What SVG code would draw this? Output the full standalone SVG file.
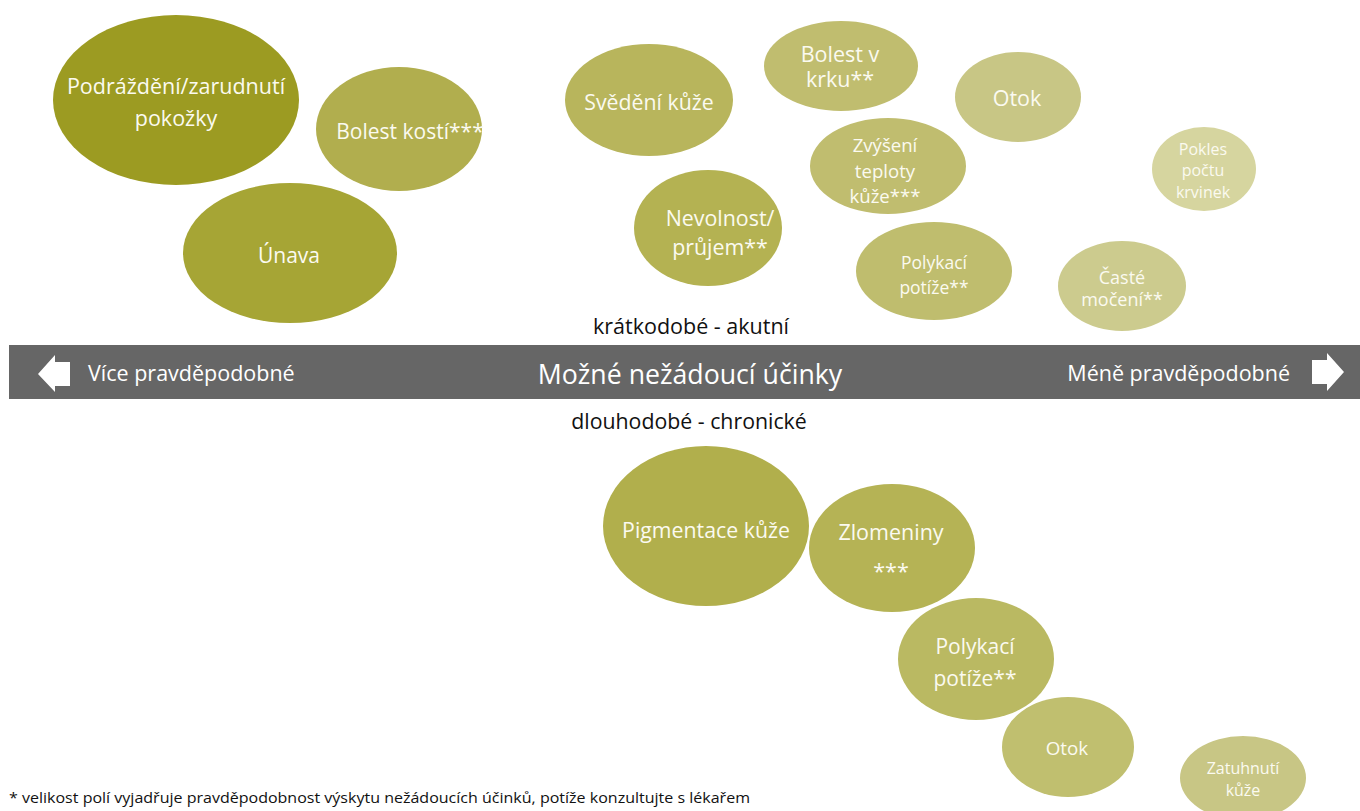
<svg xmlns="http://www.w3.org/2000/svg" width="1360" height="811" viewBox="0 0 1360 811">
<style>
text{font-family:"Open Sans","Noto Sans","Liberation Sans",sans-serif}
.n{fill:#fbfaf0;text-anchor:middle;dominant-baseline:central}
.d{fill:#111;text-anchor:middle}
.w{fill:#fff;dominant-baseline:central}
</style>
<rect width="1360" height="811" fill="#fff"/>
<g id="banner">
<rect x="9" y="345" width="1351" height="54" fill="#666"/>
<polygon points="38,374 55,355 55,362 70,362 70,386 55,386 55,392" fill="#fff"/>
<polygon points="1344,372 1327,353 1327,360 1312,360 1312,384 1327,384 1327,391" fill="#fff"/>
<text class="w" x="88" y="372" font-size="21.5">Více pravděpodobné</text>
<text class="w" x="1290" y="372" text-anchor="end" font-size="21.5">Méně pravděpodobné</text>
<text class="w" x="690" y="373" text-anchor="middle" font-size="26.7">Možné nežádoucí účinky</text>
</g>
<text class="d" x="691" y="334" font-size="21.5">krátkodobé - akutní</text>
<text class="d" x="689" y="429" font-size="21.3">dlouhodobé - chronické</text>
<g id="n1"><ellipse cx="176" cy="100" rx="123" ry="85" fill="#9c9b22"/><text class="n" x="176" y="85" font-size="21.5">Podráždění/zarudnutí</text><text class="n" x="176" y="117" font-size="21.5">pokožky</text></g>
<g id="n2"><ellipse cx="399" cy="129" rx="83" ry="62" fill="#b1ae4e"/><text class="n" x="410" y="131" font-size="21">Bolest kostí***</text></g>
<g id="n3"><ellipse cx="290" cy="253" rx="107" ry="70" fill="#a6a535"/><text class="n" x="289" y="255" font-size="21">Únava</text></g>
<g id="n4"><ellipse cx="649" cy="100" rx="84" ry="56" fill="#b8b55c"/><text class="n" x="649" y="101" font-size="21.3">Svědění kůže</text></g>
<g id="n5"><ellipse cx="841" cy="66" rx="77" ry="45" fill="#c0bd6f"/><text class="n" x="840" y="53" font-size="21.5">Bolest v</text><text class="n" x="840" y="78" font-size="21.5">krku**</text></g>
<g id="n6"><ellipse cx="1018" cy="97" rx="63" ry="45" fill="#c8c685"/><text class="n" x="1017" y="97" font-size="21.5">Otok</text></g>
<g id="n7"><ellipse cx="888" cy="166" rx="78" ry="48" fill="#c0bd6f"/><text class="n" x="885" y="144" font-size="18.6">Zvýšení</text><text class="n" x="885" y="170" font-size="18.6">teploty</text><text class="n" x="885" y="195" font-size="18.6">kůže***</text></g>
<g id="n8"><ellipse cx="708" cy="228" rx="74" ry="58" fill="#b4b252"/><text class="n" x="720" y="217" font-size="21.4">Nevolnost/</text><text class="n" x="720" y="246" font-size="21.4">průjem**</text></g>
<g id="n9"><ellipse cx="934" cy="271" rx="78" ry="49" fill="#bfbd6e"/><text class="n" x="934" y="262" font-size="17.5">Polykací</text><text class="n" x="934" y="287" font-size="17.5">potíže**</text></g>
<g id="n10"><ellipse cx="1204" cy="169" rx="52" ry="42" fill="#d6d59f"/><text class="n" x="1203" y="149" font-size="16">Pokles</text><text class="n" x="1203" y="170" font-size="16">počtu</text><text class="n" x="1203" y="192" font-size="16">krvinek</text></g>
<g id="n11"><ellipse cx="1122" cy="286" rx="64" ry="45" fill="#cccb8e"/><text class="n" x="1122" y="277" font-size="18">Časté</text><text class="n" x="1122" y="299" font-size="18">močení**</text></g>
<g id="n12"><ellipse cx="706" cy="526" rx="103" ry="80" fill="#b1af4c"/><text class="n" x="706" y="529" font-size="21.3">Pigmentace kůže</text></g>
<g id="n13"><ellipse cx="892" cy="548" rx="83" ry="64" fill="#b5b355"/><text class="n" x="891" y="531" font-size="21.5">Zlomeniny</text><text class="n" x="891" y="570" font-size="21.5">***</text></g>
<g id="n14"><ellipse cx="976" cy="659" rx="78" ry="61" fill="#bab962"/><text class="n" x="975" y="646" font-size="21">Polykací</text><text class="n" x="975" y="678" font-size="21">potíže**</text></g>
<g id="n15"><ellipse cx="1068" cy="747" rx="66" ry="50" fill="#c0bf6f"/><text class="n" x="1067" y="748" font-size="18.8">Otok</text></g>
<g id="n16"><ellipse cx="1243" cy="778" rx="63" ry="42" fill="#c8c685"/><text class="n" x="1243" y="768" font-size="16">Zatuhnutí</text><text class="n" x="1243" y="790" font-size="16">kůže</text></g>
<g id="connectors"></g>
<text x="9" y="803" font-size="15" fill="#111" textLength="741" lengthAdjust="spacingAndGlyphs">* velikost polí vyjadřuje pravděpodobnost výskytu nežádoucích účinků, potíže konzultujte s lékařem</text>
</svg>
